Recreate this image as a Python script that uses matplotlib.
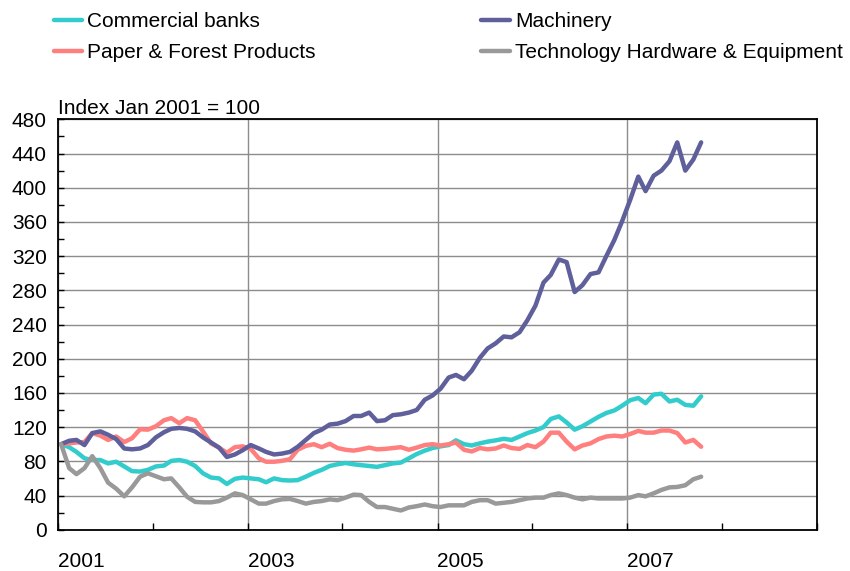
import matplotlib
matplotlib.use("Agg")
import matplotlib.pyplot as plt
from matplotlib.ticker import MultipleLocator
import pandas as pd
import datetime as dt

plt.rcParams['font.family'] = ['Liberation Sans', 'DejaVu Sans']

# Monthly observations, Jan 2001 - Oct 2007 (index, Jan 2001 = 100)
months = pd.date_range('2001-01-01', periods=82, freq='MS') + pd.Timedelta(days=12)

commercial_banks = [
    100, 96.5, 91, 83.5, 81.5, 81.5, 77.5, 79.5, 74, 68.5, 68, 70,
    74, 75, 80.5, 81.5, 79.5, 74.5, 66, 61, 60, 53.5, 59.5, 61,
    60, 59, 55.5, 60, 58, 57.5, 58, 62, 66.5, 70, 74.5, 76.5,
    78, 76.5, 75.5, 74.5, 73.5, 75.5, 77.5, 78.5, 83.5, 88.5, 92.5, 95.5,
    97.5, 99, 104.5, 100, 98.5, 101, 103, 104.5, 106.3, 105, 109, 113,
    116, 120, 129.5, 132.5, 125.5, 117, 121, 126.5, 132, 136.5, 139.5, 145,
    151.5, 154, 148, 158, 159, 150, 152, 146, 145, 156]

machinery = [
    100, 104, 105, 99, 113, 115, 111, 106, 95, 94, 95, 99,
    108, 114, 118, 119, 118, 115, 108, 102, 96, 85, 88, 93,
    99, 95, 91, 88, 89, 91, 97, 105, 113, 117, 123, 124,
    127, 133, 133, 137, 127, 128, 134, 135, 137, 140, 152, 157,
    165, 178, 181, 176, 186, 201, 212, 218, 226, 225, 231, 245,
    262, 289, 298, 316, 313, 278, 286, 299, 301, 320, 339, 361,
    386, 413, 396, 414, 420, 431, 453, 420, 433, 453]

paper_forest = [
    100, 101, 102, 102.5, 113, 110, 105, 109, 102.5, 107, 117.5, 117,
    121, 128, 130.5, 124.5, 130.5, 128, 115, 101, 96, 90, 96.5, 97.5,
    94.5, 83.5, 79.5, 79.5, 80.5, 82.5, 93.5, 98, 100, 96.5, 100.5, 95.5,
    93.5, 92.5, 94, 96, 94, 94.5, 95.5, 96.5, 93.5, 96, 99, 100,
    98.5, 100, 102, 93.5, 91.5, 95.5, 94, 95, 98.5, 95.5, 94.5, 99,
    96.5, 103, 113.5, 113.5, 103, 94, 98.5, 101, 106, 109, 110, 109,
    112, 115.5, 113.5, 113.5, 116, 116, 113, 102, 105, 97]

tech_hardware = [
    100, 72, 65, 72, 86, 72, 55, 48, 39, 49.5, 62, 66,
    62.5, 59, 60, 49.5, 38.5, 32.5, 32, 32, 33.5, 37.5, 42.5, 40.5,
    35.5, 30.5, 30.5, 33.5, 35.5, 36, 33.5, 30.5, 32.5, 33.5, 35.5, 34.5,
    37.5, 41, 40.5, 32.5, 26.5, 26.5, 24.5, 22.5, 26, 27.5, 29.5, 27.5,
    26.5, 28.5, 28.5, 28.5, 32.5, 34.5, 34.5, 30.5, 31.5, 32.5, 34.5, 36.5,
    37.5, 37.5, 40.5, 42.5, 40.5, 37.5, 35.5, 37.5, 36.5, 36.5, 36.5, 36.5,
    37.5, 40.5, 39, 42.5, 46.5, 49.5, 50, 52, 59, 62]

series_names = ['Commercial banks', 'Paper & Forest Products',
                'Machinery', 'Technology Hardware & Equipment']
series_values = [commercial_banks, paper_forest, machinery, tech_hardware]
series_colors = ['#33CCCC', '#FF7F7F', '#5F5F9B', '#999999']

year_ticks = [2001, 2003, 2005, 2007]
minor_years = list(range(2001, 2010))
y_ticks = list(range(0, 481, 40))

fig = plt.figure(figsize=(8.5, 5.71), dpi=100)
ax = fig.add_axes([58 / 850, 1 - 529.7 / 571, (817 - 58) / 850, (529.7 - 119.3) / 571])

handles = {}
draw_order = [3, 1, 0, 2]
for k in draw_order:
    h, = ax.plot(months, series_values[k], color=series_colors[k], lw=3.2,
                 solid_joinstyle='round', solid_capstyle='round', zorder=3 + k * 0.1)
    handles[k] = h

ax.set_xlim(dt.datetime(2001, 1, 1), dt.datetime(2009, 1, 1))
ax.set_ylim(0, 480)

ax.set_yticks(y_ticks)
ax.set_yticklabels([str(v) for v in y_ticks])
ax.yaxis.set_minor_locator(MultipleLocator(20))
ax.set_xticks([dt.datetime(y, 1, 1) for y in year_ticks])
ax.set_xticklabels([str(y) for y in year_ticks])
ax.set_xticks([dt.datetime(y, 1, 1) for y in minor_years], minor=True)

ax.grid(True, which='major', axis='both', color='#8C8C8C', lw=1.0, zorder=1)
ax.set_axisbelow(True)

ax.tick_params(axis='y', which='both', direction='in', length=4, width=1,
               labelsize=15, pad=8)
ax.tick_params(axis='x', which='both', direction='in', length=5, width=1,
               labelsize=15, pad=16)
for lab in ax.get_xticklabels():
    lab.set_ha('left')

for s in ax.spines.values():
    s.set_linewidth(1.3)
    s.set_color('black')

ax.text(0.0, 1.002, 'Index Jan 2001 = 100', transform=ax.transAxes,
        ha='left', va='bottom', fontsize=15)

leg = fig.legend([handles[0], handles[1], handles[2], handles[3]],
                 [series_names[0], series_names[1], series_names[2], series_names[3]],
                 loc='upper left', bbox_to_anchor=(54 / 850, 1 - 12 / 571),
                 ncol=2, frameon=False, fontsize=15, handlelength=1.35,
                 handletextpad=0.25, columnspacing=7.95, labelspacing=0.6,
                 borderpad=0, borderaxespad=0)

fig.savefig('out.png', dpi=100)
